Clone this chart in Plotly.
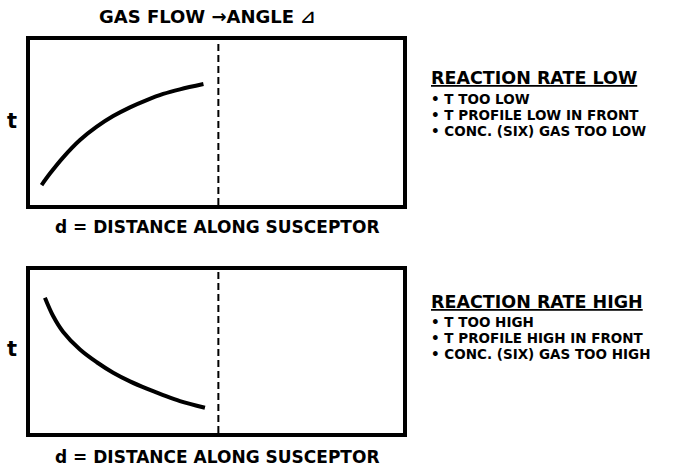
import plotly.graph_objects as go

# ---- data (units: fraction of box, 0..10) ----
d_low = [0.31, 0.54, 0.89, 1.34, 1.79, 2.23, 2.68, 3.13, 3.57, 4.02, 4.65]
t_low = [1.21, 1.92, 2.89, 3.94, 4.75, 5.39, 5.92, 6.36, 6.73, 7.01, 7.33]

d_high = [0.40, 0.62, 0.89, 1.34, 1.79, 2.23, 2.68, 3.13, 3.57, 4.02, 4.69]
t_high = [8.30, 7.18, 6.20, 5.12, 4.34, 3.70, 3.17, 2.72, 2.33, 1.96, 1.55]

angle_change_d = 5.05

title_text = "GAS FLOW \u2192ANGLE \u22BF"
x_label = "d = DISTANCE ALONG SUSCEPTOR"
y_label = "t"
low_heading = "REACTION RATE LOW"
low_items = ["T TOO LOW", "T PROFILE LOW IN FRONT", "CONC. (SIX) GAS TOO LOW"]
high_heading = "REACTION RATE HIGH"
high_items = ["T TOO HIGH", "T PROFILE HIGH IN FRONT", "CONC. (SIX) GAS TOO HIGH"]

W, H = 683, 467
FONT = "DejaVu Sans"

fig = go.Figure()

fig.add_trace(go.Scatter(x=d_low, y=t_low, mode="lines", xaxis="x", yaxis="y",
                         line=dict(color="black", width=4, shape="spline", smoothing=1.0),
                         hoverinfo="skip", showlegend=False))
fig.add_trace(go.Scatter(x=d_high, y=t_high, mode="lines", xaxis="x2", yaxis="y2",
                         line=dict(color="black", width=4, shape="spline", smoothing=1.0),
                         hoverinfo="skip", showlegend=False))

def px_x(p):
    return p / W

def px_y(p):
    return 1 - p / H

ax_common = dict(range=[0, 10], showline=True, mirror=True, linewidth=4, linecolor="black",
                 showgrid=False, zeroline=False, ticks="", showticklabels=False, fixedrange=True)

fig.update_layout(
    width=W, height=H,
    margin=dict(l=0, r=0, t=0, b=0),
    paper_bgcolor="white", plot_bgcolor="white",
    xaxis=dict(domain=[px_x(30), px_x(403)], anchor="y", **ax_common),
    yaxis=dict(domain=[px_y(205), px_y(40)], anchor="x", **ax_common),
    xaxis2=dict(domain=[px_x(30), px_x(403)], anchor="y2", **ax_common),
    yaxis2=dict(domain=[px_y(433), px_y(270)], anchor="x2", **ax_common),
    font=dict(family=FONT, color="black"),
)

for xr, yr in (("x", "y"), ("x2", "y2")):
    fig.add_shape(type="line", xref=xr, yref=yr, x0=angle_change_d, x1=angle_change_d, y0=0, y1=10,
                  line=dict(color="black", width=2, dash="7px,4px"))

anns = []
anns.append(dict(text="<b>" + title_text + "</b>", x=px_x(207), y=px_y(16), font=dict(size=18)))
for cy in (121, 349):
    anns.append(dict(text="<b>" + y_label + "</b>", x=px_x(12), y=px_y(cy), font=dict(size=21)))
for cy in (227, 457):
    anns.append(dict(text="<b>" + x_label + "</b>", x=px_x(217), y=px_y(cy), font=dict(size=17)))

def block(heading, items, y_head, y_items):
    out = [dict(text="<b><u>" + heading + "</u></b>", x=px_x(429), y=px_y(y_head), xanchor="left",
                font=dict(size=17.5))]
    for it, yy in zip(items, y_items):
        out.append(dict(text="<b>\u2022 " + it + "</b>", x=px_x(429), y=px_y(yy), xanchor="left",
                        font=dict(size=13.5)))
    return out

anns += block(low_heading, low_items, 78, (99, 115, 131))
anns += block(high_heading, high_items, 302, (322, 338, 354))

for a in anns:
    a.setdefault("xanchor", "center")
    a.update(xref="paper", yref="paper", yanchor="middle", showarrow=False)
fig.update_layout(annotations=anns)

fig.write_html("out.html", config={"displayModeBar": False},
               post_script="document.body.style.margin='0';")
